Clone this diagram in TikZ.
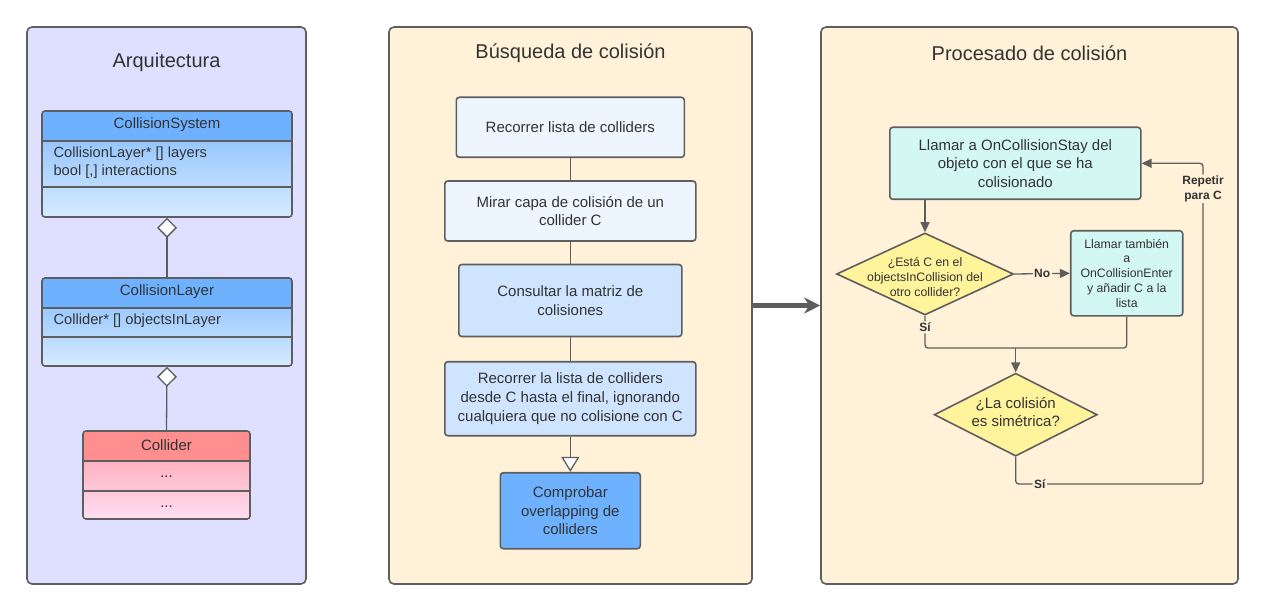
\documentclass[tikz,border=0pt]{standalone}
\usepackage{fontspec}
\setmainfont{Liberation Sans}
\usetikzlibrary{arrows.meta,shapes.geometric}
\definecolor{edge}{HTML}{5E5E5E}
\definecolor{ink}{HTML}{333333}
\definecolor{lavender}{HTML}{DFDFFF}
\definecolor{cream}{HTML}{FFF2D9}
\definecolor{paleblue}{HTML}{EDF5FF}
\definecolor{midblue}{HTML}{CFE4FF}
\definecolor{deepblue}{HTML}{6DB1FF}
\definecolor{bodytop}{HTML}{7FB9FF}
\definecolor{bodybot}{HTML}{D6EBFF}
\definecolor{redhead}{HTML}{FF8F8F}
\definecolor{redtop}{HTML}{FF9AA6}
\definecolor{redbot}{HTML}{FFDEF2}
\definecolor{aqua}{HTML}{D3F8F4}
\definecolor{lemon}{HTML}{FFF39B}
\newcommand{\ftitle}{\fontsize{20}{24}\selectfont}
\newcommand{\ftext}{\fontsize{15}{18.6}\selectfont}
\newcommand{\fattr}{\fontsize{14.7}{17.7}\selectfont}
\newcommand{\fsmall}{\fontsize{12.3}{14.8}\selectfont}
\newcommand{\flabel}{\fontsize{12}{14.4}\selectfont\bfseries}
\tikzset{
	panel/.style={draw=edge, line width=1.6pt, rounded corners=5pt, inner sep=0pt},
	classbox/.style n args={4}{draw=edge, line width=1.6pt, rounded corners=3pt, inner sep=0pt,
		top color=#2, bottom color=#3,
		path picture={
			\fill[#1] (path picture bounding box.north west) rectangle ([yshift=-30pt]path picture bounding box.north east);
			\draw[edge, line width=1.6pt] ([yshift=-30pt]path picture bounding box.north west) -- ++(300pt,0);
			\draw[edge, line width=1.6pt] ([yshift=-#4]path picture bounding box.north west) -- ++(300pt,0);
		}},
	stepbox/.style={draw=edge, line width=1.6pt, rounded corners=3pt, inner sep=0pt, align=center, text=ink, font=\ftext},
	decision/.style={diamond, draw=edge, fill=lemon, line width=1.6pt, inner sep=0pt},
	link/.style={draw=edge, line width=1.3pt},
	flow/.style={link, -{Triangle[length=10pt,width=9pt]}},
	lbl/.style={fill=cream, inner sep=1.5pt, text=ink, font=\flabel, align=center},
	heading/.style={font=\ftitle, text=ink},
	plain/.style={text=ink, align=center},
}
\begin{document}
\begin{tikzpicture}[x=1pt,y=-1pt]
			%%%%% START %%%%%
			\useasboundingbox (0,0) rectangle (1266,612);
			
			\node[panel, fill=lavender, minimum width=279pt, minimum height=557pt] (arch) at (166.5,305.5) {};
			\node[panel, fill=cream, minimum width=363pt, minimum height=557pt] (busq) at (570.5,305.5) {};
			\node[panel, fill=cream, minimum width=417pt, minimum height=557pt] (proc) at (1029.5,305.5) {};
			
			\node[heading] (archtitle) at (166.5,62) {Arquitectura};
			\node[heading] (busqtitle) at (570.5,53) {Búsqueda de colisión};
			\node[heading] (proctitle) at (1029.5,53) {Procesado de colisión};
			
			% Arquitectura
			\node[classbox={deepblue}{bodytop}{bodybot}{76pt}, minimum width=250pt, minimum height=106pt] (sys) at (167,164) {};
			\node[plain, font=\ftext] (sysname) at (167,125) {CollisionSystem};
			\node[plain, font=\fattr, align=left, anchor=west] (sysattr) at (50,163) {CollisionLayer* [] layers\\bool [,] interactions};
			
			\node[classbox={deepblue}{bodytop}{bodybot}{59pt}, minimum width=250pt, minimum height=88pt] (lay) at (167,322) {};
			\node[plain, font=\ftext] (layname) at (167,292) {CollisionLayer};
			\node[plain, font=\fattr, align=left, anchor=west] (layattr) at (50,321) {Collider* [] objectsInLayer};
			
			\node[classbox={redhead}{redtop}{redbot}{60pt}, minimum width=167pt, minimum height=88pt] (col) at (166.5,475) {};
			\node[plain, font=\ftext] (colname) at (166.5,445) {Collider};
			\node[plain, font=\ftext] (coldots) at (166.5,477) {...};
			\node[plain, font=\ftext] (colmeth) at (166.5,507) {...};
			
			\draw[link, {Diamond[fill=white,length=20pt,width=20pt]}-] (sys.south) -- (lay.north);
			\draw[link, {Diamond[fill=white,length=20pt,width=20pt]}-] (lay.south) -- (col.north);
			
			% Busqueda
			\node[stepbox, fill=paleblue, minimum width=228pt, minimum height=60pt] (walk) at (570.3,127.3) {Recorrer lista de colliders};
			\node[stepbox, fill=paleblue, minimum width=251pt, minimum height=60pt] (look) at (570.3,211) {Mirar capa de colisión de un\\collider C};
			\node[stepbox, fill=midblue, minimum width=223pt, minimum height=72pt] (consult) at (570.3,300.5) {Consultar la matriz de\\colisiones};
			\node[stepbox, fill=midblue, minimum width=251pt, minimum height=74pt] (scan) at (570.3,398.7) {Recorrer la lista de colliders\\desde C hasta el final, ignorando\\cualquiera que no colisione con C};
			\node[stepbox, fill=deepblue, minimum width=140pt, minimum height=76pt] (overlap) at (570.3,510.7) {Comprobar\\overlapping de\\colliders};
			
			\draw[link] (walk) -- (look);
			\draw[link] (look) -- (consult);
			\draw[link] (consult) -- (scan);
			\draw[link, -{Triangle[fill=white,length=15pt,width=18pt]}] (scan) -- (overlap);
			
			\draw[edge, line width=4.5pt, -{Stealth[length=16pt,width=16pt,inset=5pt]}] (busq.east) -- (proc.west);
			
			% Procesado
			\node[stepbox, fill=aqua, minimum width=251pt, minimum height=72pt] (stay) at (1015.3,163.3) {Llamar a OnCollisionStay del\\objeto con el que se ha\\colisionado};
			\node[decision, minimum width=177pt, minimum height=82pt] (known) at (925,274) {};
			\node[plain, font=\fsmall] (knowntext) at (925,277) {¿Está C en el\\objectsInCollision del\\otro collider?};
			\node[stepbox, fill=aqua, font=\fsmall, minimum width=112pt, minimum height=85pt] (enter) at (1126.7,273.3) {Llamar también\\a\\OnCollisionEnter\\y añadir C a la\\lista};
			\node[decision, minimum width=163pt, minimum height=83pt] (sym) at (1015.7,414.7) {};
			\node[plain, font=\ftext] (symtext) at (1015.7,412) {¿La colisión\\es simétrica?};
			
			\coordinate (merge) at (1015.7,348);
			\coordinate (loop) at (1203,484);
			
			\draw[flow] (stay.south -| known.north) -- (known.north);
			\draw[flow] (known.east) -- node[lbl] (no) {No} (enter.west);
			\draw[link, rounded corners=3pt] (known.south) |- node[lbl, pos=0.18] (yes) {Sí} (merge);
			\draw[link, rounded corners=3pt] (enter.south) |- (merge);
			\draw[flow] (merge) -- (sym.north);
			\draw[flow, rounded corners=3pt] (sym.south) |- node[lbl, pos=0.564] (again) {Sí} (loop) |- node[lbl, pos=0.46] (repeat) {Repetir\\para C} (stay.east);
			
			%%%%% END %%%%%
\end{tikzpicture}
\end{document}
